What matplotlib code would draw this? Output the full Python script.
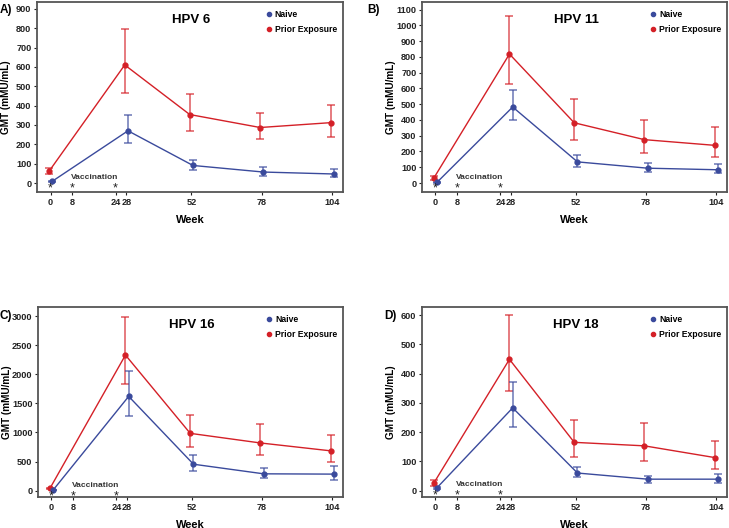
import matplotlib
matplotlib.use("Agg")
import matplotlib.pyplot as plt
import numpy as np

plt.rcParams['font.family'] = ['Liberation Sans', 'DejaVu Sans']

weeks = [0, 28, 52, 78, 104]
tick_weeks = [0, 8, 24, 28, 52, 78, 104]
tick_labels = ["0", "8", "24", "28", "52", "78", "104"]
vacc_weeks = [0, 8, 24]

titles = ["HPV 6", "HPV 11", "HPV 16", "HPV 18"]
panel_labels = ["A)", "B)", "C)", "D)"]

# HPV 6
naive_6 = [9, 270, 91, 57, 47]
naive_6_lo = [6, 205, 69, 38, 30]
naive_6_hi = [13, 354, 120, 83, 72]
prior_6 = [60, 610, 354, 287, 312]
prior_6_lo = [45, 466, 271, 227, 240]
prior_6_hi = [78, 798, 462, 364, 405]

# HPV 11
naive_11 = [5, 482, 134, 94, 84]
naive_11_lo = [3, 398, 101, 67, 61]
naive_11_hi = [8, 591, 176, 128, 119]
prior_11 = [32, 818, 382, 275, 239]
prior_11_lo = [20, 631, 275, 189, 164]
prior_11_hi = [45, 1061, 530, 398, 354]

# HPV 16
naive_16 = [11, 1620, 455, 290, 285]
naive_16_lo = [7, 1280, 332, 212, 183]
naive_16_hi = [16, 2060, 605, 389, 424]
prior_16 = [38, 2330, 985, 820, 685]
prior_16_lo = [28, 1835, 756, 605, 487]
prior_16_hi = [50, 2975, 1294, 1140, 965]

# HPV 18
naive_18 = [10, 283, 60, 39, 39]
naive_18_lo = [7, 218, 46, 27, 27]
naive_18_hi = [13, 371, 79, 51, 56]
prior_18 = [26, 449, 165, 153, 113]
prior_18_lo = [17, 339, 114, 100, 74]
prior_18_hi = [35, 600, 241, 230, 170]

naive_all = [(naive_6, naive_6_lo, naive_6_hi), (naive_11, naive_11_lo, naive_11_hi),
             (naive_16, naive_16_lo, naive_16_hi), (naive_18, naive_18_lo, naive_18_hi)]
prior_all = [(prior_6, prior_6_lo, prior_6_hi), (prior_11, prior_11_lo, prior_11_hi),
             (prior_16, prior_16_lo, prior_16_hi), (prior_18, prior_18_lo, prior_18_hi)]

yticks_all = [list(range(0, 901, 100)), list(range(0, 1101, 100)),
              list(range(0, 3001, 500)), list(range(0, 601, 100))]
ylims = [(-46, 935), (-57, 1148), (-108, 3155), (-22, 628)]

W, H = 729, 528
fig = plt.figure(figsize=(W / 100, H / 100), dpi=100)

boxes = [(37, 343, 2, 192), (422, 727, 2, 192), (38, 343, 307, 497), (422, 727, 307, 497)]
label_pos = [(0, 10), (367, 10), (0, 316), (384, 316)]

blue = '#3A4A9C'
red = '#D42027'
frame_col = '#555555'

for i in range(4):
    l, r, t, b = boxes[i]
    ax = fig.add_axes([l / W, 1 - b / H, (r - l) / W, (b - t) / H])
    ymin, ymax = ylims[i]
    ax.set_xlim(-5, 108)
    ax.set_ylim(ymin, ymax)

    for (vals, lo, hi), col, off, lab in [(prior_all[i], red, -0.6, 'Prior Exposure'),
                                          (naive_all[i], blue, 0.6, 'Naive')]:
        x = np.array(weeks) + off
        v = np.array(vals)
        err = np.vstack([v - np.array(lo), np.array(hi) - v])
        ax.errorbar(x, v, yerr=err, fmt='none', ecolor=col, elinewidth=1.1,
                    capsize=3, capthick=1.1, alpha=0.75, zorder=2)
        ax.plot(x, v, color=col, lw=1.0, marker='o', ms=3.5, zorder=3, label=lab)

    ax.set_xticks(tick_weeks)
    ax.set_xticklabels(tick_labels)
    ax.set_yticks(yticks_all[i])
    ax.tick_params(labelsize=6.6, width=0.8, length=2.5, colors='#222222', pad=1.5)
    for lab in ax.get_xticklabels() + ax.get_yticklabels():
        lab.set_fontweight('bold')
    for s in ax.spines.values():
        s.set_color(frame_col)
        s.set_linewidth(1.3)

    w_px = r - l
    ax.set_xlabel('Week', fontsize=8, fontweight='bold', va='center')
    ax.xaxis.set_label_coords(0.5, -0.145)
    ax.set_ylabel('GMT (mMU/mL)', fontsize=7.2, fontweight='bold', va='center')
    ax.yaxis.set_label_coords(-30.5 / w_px, 0.5)

    # vaccination asterisks and label
    yr = ymax - ymin
    for vw in vacc_weeks:
        ax.text(vw, -0.028 * yr, '*', ha='center', va='center', fontsize=9, color='#222222')
    ax.text(7.5, 0.03 * yr, 'Vaccination', ha='left', va='center', fontsize=6,
            fontweight='bold', color='#333333')

    ax.text(0.505, 0.905, titles[i], transform=ax.transAxes, ha='center', va='center',
            fontsize=9.5, fontweight='bold')

    handles, labels = ax.get_legend_handles_labels()
    leg = ax.legend(handles[::-1], labels[::-1], loc='upper left',
                    bbox_to_anchor=(0.735, 0.985), frameon=False, fontsize=6.2,
                    handlelength=0.5, handletextpad=0.4, labelspacing=0.75,
                    borderaxespad=0.2)
    for h in leg.legend_handles:
        h.set_linestyle('none')
        h.set_markersize(3)
    for txt in leg.get_texts():
        txt.set_fontweight('bold')

    lx, ly = label_pos[i]
    fig.text(lx / W, 1 - ly / H, panel_labels[i], ha='left', va='center',
             fontsize=8.5, fontweight='bold')

fig.savefig('out.png', dpi=100)
